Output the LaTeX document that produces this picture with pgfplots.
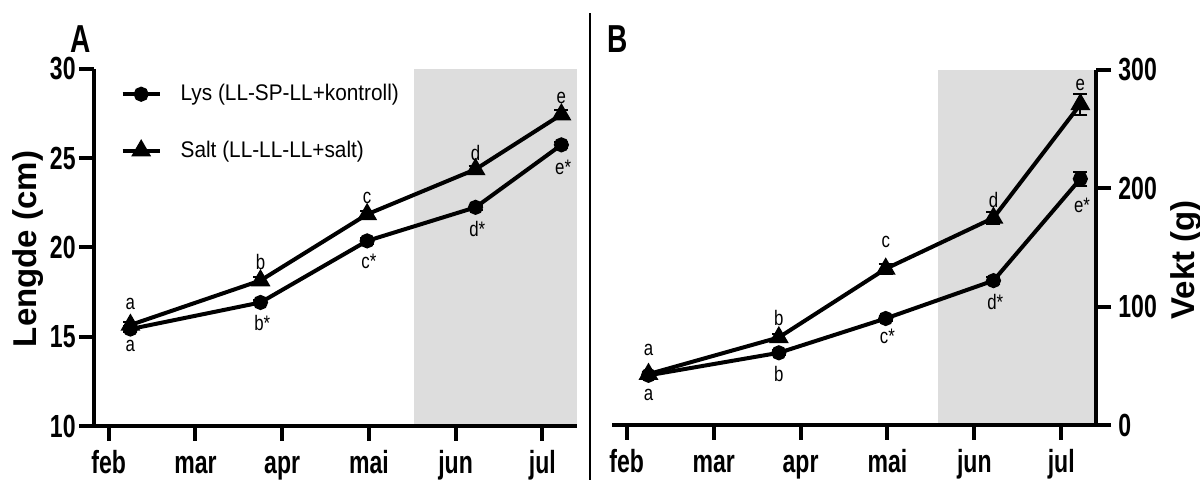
\documentclass[border=0pt]{standalone}
\usepackage{fontspec}
\setmainfont{Liberation Sans}
\newfontfamily\tickfont{Liberation Sans}[FakeStretch=0.72]
\newfontfamily\annfont{Liberation Sans}[FakeStretch=0.8]
\newfontfamily\legfont{Liberation Sans}[FakeStretch=0.92]
\usepackage{pgfplots}
\usepackage{pgfplotstable}
\pgfplotsset{compat=1.18}
\definecolor{shade}{HTML}{DDDDDD}

\pgfplotstableread{
x lys lyse salt salte
0.25 15.43 0.15 15.66 0.15
1.75 16.92 0.15 18.15 0.20
2.98 20.37 0.15 21.86 0.20
4.23 22.25 0.15 24.38 0.20
5.22 25.75 0.15 27.45 0.25
}\tA
\pgfplotstableread{
x lys lyse salt salte
0.25 42 2 43 2
1.75 61 2 74 3
2.98 90 2 132 4
4.22 122 3 175 5
5.22 208 6 271 9
}\tB

\tikzset{lab/.style={font=\annfont\fontsize{10.5}{12}\selectfont}}
\pgfplotsset{
  panel/.style={
    scale only axis, clip=false, axis on top,
    xmin=-0.17, xmax=5.4,
    xtick={0,1,2,3,4,5}, xticklabels={feb,mar,apr,mai,jun,jul},
    axis line style={line width=2pt,-},
    tick style={line width=2pt, black},
    tick align=outside, major tick length=7.5pt,
    ticklabel style={font=\tickfont\bfseries\fontsize{16}{18}\selectfont},
    xticklabel style={inner sep=0pt, text height=16pt, text depth=0pt, anchor=north},
    /pgf/number format/assume math mode=true,
  },
  lysplot/.style={black, line width=2pt, mark=*, mark size=2.75pt, mark options={solid},
    error bars/.cd, y dir=both, y explicit,
    error bar style={line width=1pt},
    error mark options={rotate=90, mark size=3.5pt, line width=1pt}},
  saltplot/.style={black, line width=2pt, mark=triangle*, mark size=3.75pt, mark options={solid},
    error bars/.cd, y dir=both, y explicit,
    error bar style={line width=1pt},
    error mark options={rotate=90, mark size=3.5pt, line width=1pt}},
}

\begin{document}
\begin{tikzpicture}
\path[use as bounding box] (0,0) rectangle (600pt,240pt);
\node[font=\tickfont\bfseries\fontsize{19.5}{22}\selectfont] at (40.35pt,220.5pt) {A};
\node[font=\tickfont\bfseries\fontsize{19.5}{22}\selectfont] at (309pt,220.5pt) {B};
\draw[line width=1.2pt] (295pt,0) -- (295pt,233.5pt);

\begin{axis}[panel,
  at={(47pt,27pt)}, anchor=south west, width=241.5pt, height=178.5pt,
  axis x line*=bottom, axis y line*=left,
  ymin=10, ymax=30, ytick={10,15,20,25,30},
  yticklabel style={inner sep=1.5pt},
  ylabel={Lengde (cm)},
  ylabel style={at={(axis description cs:-0.136,0.496)}, anchor=center, rotate=0,
    font=\bfseries\fontsize{16.5}{18}\selectfont},
  legend style={at={(0.042,0.98)}, anchor=north west, draw=none, fill=none,
    font=\legfont\fontsize{11.3}{13}\selectfont, row sep=14.5pt},
  legend cell align=left,
  legend image code/.code={\draw[#1, mark repeat=2, mark phase=2] plot coordinates {(0pt,0pt)(9.25pt,0pt)(18.5pt,0pt)};},
]
\addplot[fill=shade, draw=none, forget plot] coordinates {(3.52,10)(5.4,10)(5.4,30)(3.52,30)} -- cycle;
\addplot[lysplot] table[x=x, y=lys, y error=lyse] {\tA};
\addlegendentry{\hspace*{7.5pt}Lys (LL-SP-LL+kontroll)}
\addplot[saltplot] table[x=x, y=salt, y error=salte] {\tA};
\addlegendentry{\hspace*{7.5pt}Salt (LL-LL-LL+salt)}
\node[lab] at (axis cs:0.25,16.85) {a};
\node[lab] at (axis cs:0.25,14.5) {a};
\node[lab] at (axis cs:1.75,19.2) {b};
\node[lab] at (axis cs:1.77,15.75) {b*};
\node[lab] at (axis cs:2.98,22.8) {c};
\node[lab] at (axis cs:3.0,19.25) {c*};
\node[lab] at (axis cs:4.23,25.3) {d};
\node[lab] at (axis cs:4.25,21.05) {d*};
\node[lab] at (axis cs:5.22,28.4) {e};
\node[lab] at (axis cs:5.24,24.5) {e*};
\end{axis}

\begin{axis}[panel,
  at={(306pt,27.5pt)}, anchor=south west, width=242pt, height=177.5pt,
  axis x line*=bottom, axis y line*=right,
  ymin=0, ymax=300, ytick={0,100,200,300},
  yticklabel style={inner sep=0pt, xshift=3.5pt},
  ylabel={Vekt (g)},
  ylabel style={at={(axis description cs:1.186,0.465)}, anchor=center, rotate=0,
    font=\bfseries\fontsize{16.5}{18}\selectfont},
]
\addplot[fill=shade, draw=none, forget plot] coordinates {(3.58,0)(5.4,0)(5.4,300)(3.58,300)} -- cycle;
\addplot[lysplot] table[x=x, y=lys, y error=lyse] {\tB};
\addplot[saltplot] table[x=x, y=salt, y error=salte] {\tB};
\node[lab] at (axis cs:0.25,63) {a};
\node[lab] at (axis cs:0.25,25) {a};
\node[lab] at (axis cs:1.75,90) {b};
\node[lab] at (axis cs:1.75,43) {b};
\node[lab] at (axis cs:2.98,155) {c};
\node[lab] at (axis cs:3.0,75) {c*};
\node[lab] at (axis cs:4.22,190) {d};
\node[lab] at (axis cs:4.24,104) {d*};
\node[lab] at (axis cs:5.22,287) {e};
\node[lab] at (axis cs:5.24,186) {e*};
\end{axis}
\end{tikzpicture}
\end{document}
